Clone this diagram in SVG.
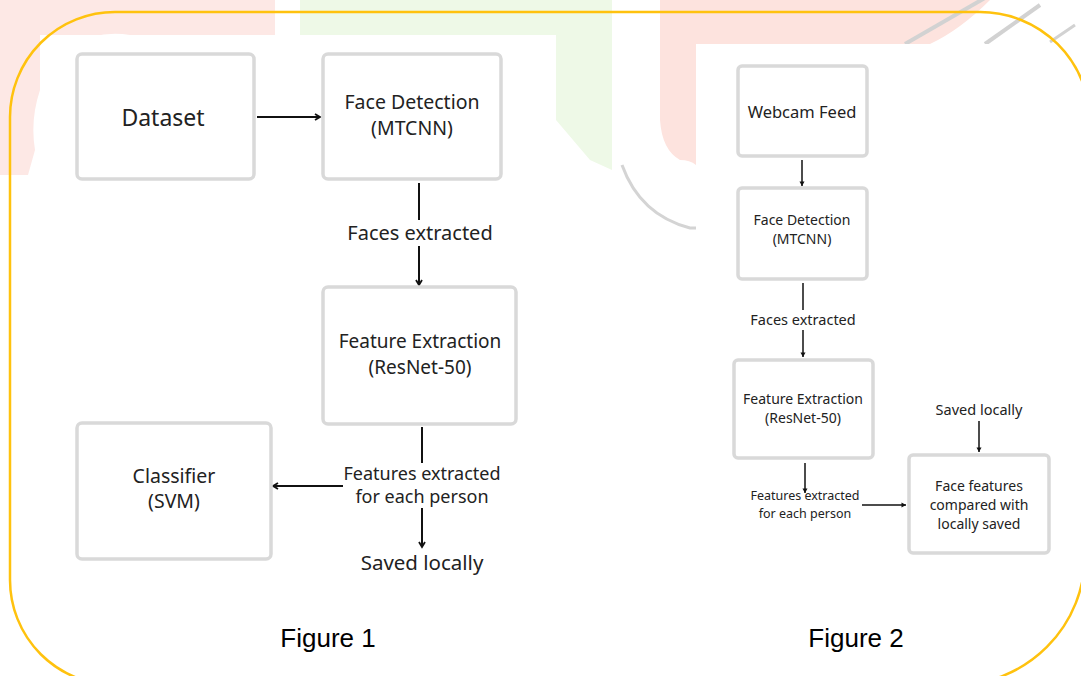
<svg xmlns="http://www.w3.org/2000/svg" width="1081" height="676" viewBox="0 0 1081 676">
<style>
.box{fill:#ffffff;stroke:#d9d9d9;stroke-width:3.5}
.t{font-family:"Noto Sans","Open Sans",sans-serif;fill:#222222;text-anchor:middle}
.cap{font-family:"Liberation Sans",Arial,sans-serif;fill:#000000;text-anchor:middle;font-size:26px}
.ln{stroke:#111111;stroke-width:2;fill:none}
.ln2{stroke:#111111;stroke-width:1.5;fill:none}
</style>
<defs>
<marker id="ah" markerWidth="8" markerHeight="8" refX="6" refY="4" orient="auto" markerUnits="userSpaceOnUse">
<path d="M1,1 L6,4 L1,7" fill="none" stroke="#111111" stroke-width="1.8"/>
</marker>
<marker id="ahs" markerWidth="6" markerHeight="6" refX="5" refY="3" orient="auto" markerUnits="userSpaceOnUse">
<path d="M0.5,0.5 L5,3 L0.5,5.5 Z" fill="#111111"/>
</marker>
</defs>
<rect width="1081" height="676" fill="#ffffff"/>
<g id="watermark">
<path d="M0,0 H275 V35 H130 Q100 30 70 45 Q45 60 40 90 Q30 120 35 150 L28 175 H0 Z" fill="#fde8e5"/>
<path d="M300,0 H612 V170 L590 160 L556 120 V35 H300 Z" fill="#eef9e7"/>
<path d="M660,0 H990 Q960 30 930 44 H696 V165 Q690 160 680 160 Q662 150 660 120 Z" fill="#fde3de"/>
<path d="M622,165 Q640 215 690 228 L696 228" fill="none" stroke="#d4d4d4" stroke-width="3"/>
<path d="M905,44 L990,-5" stroke="#d2d2d2" stroke-width="4"/>
<path d="M985,44 L1040,5" stroke="#d2d2d2" stroke-width="4"/>
<path d="M1050,42 L1075,25" stroke="#d2d2d2" stroke-width="3"/>
<rect x="40" y="35" width="516" height="560" fill="#ffffff"/>
<rect x="696" y="44" width="385" height="540" fill="#ffffff"/>
</g>
<path id="frame" d="M115,12 H980 A110 110 0 0 1 1090 122 L1085 555 A130 130 0 0 1 955 685 H115 A105 105 0 0 1 10 580 V117 A105 105 0 0 1 115 12 Z" fill="none" stroke="#ffc20e" stroke-width="2.5"/>
<g id="connectors">
<line class="ln" x1="257" y1="117" x2="320" y2="117" marker-end="url(#ah)"/>
<line class="ln" x1="419" y1="183" x2="419" y2="220"/>
<line class="ln" x1="419" y1="246" x2="419" y2="285" marker-end="url(#ah)"/>
<line class="ln" x1="422" y1="427" x2="422" y2="463"/>
<line class="ln" x1="343" y1="486" x2="273" y2="486" marker-end="url(#ah)"/>
<line class="ln" x1="422" y1="508" x2="422" y2="547" marker-end="url(#ah)"/>
<line class="ln2" x1="802" y1="160" x2="802" y2="186" marker-end="url(#ahs)"/>
<line class="ln2" x1="803" y1="283" x2="803" y2="310"/>
<line class="ln2" x1="803" y1="330" x2="803" y2="357" marker-end="url(#ahs)"/>
<line class="ln2" x1="805" y1="463" x2="805" y2="493" marker-end="url(#ahs)"/>
<line class="ln2" x1="862" y1="505" x2="906" y2="505" marker-end="url(#ahs)"/>
<line class="ln2" x1="979" y1="421" x2="979" y2="452" marker-end="url(#ahs)"/>
</g>
<g id="dataset"><rect class="box" x="77" y="54" width="177" height="125" rx="5"/><text class="t" x="163" y="126" font-size="23">Dataset</text></g>
<g id="facedet1"><rect class="box" x="323" y="54" width="178" height="125" rx="5"/><text class="t" x="412" y="109" font-size="19.5">Face Detection</text><text class="t" x="412" y="135" font-size="19.5">(MTCNN)</text></g>
<g id="faces1"><text class="t" x="420" y="240" font-size="20">Faces extracted</text></g>
<g id="featext1"><rect class="box" x="323" y="287" width="193" height="137" rx="5"/><text class="t" x="420" y="348" font-size="19">Feature Extraction</text><text class="t" x="420" y="374" font-size="19">(ResNet-50)</text></g>
<g id="features1"><text class="t" x="422" y="480" font-size="18">Features extracted</text><text class="t" x="422" y="503" font-size="18">for each person</text></g>
<g id="saved1"><text class="t" x="422" y="570" font-size="20.5">Saved locally</text></g>
<g id="classifier"><rect class="box" x="77" y="423" width="194" height="136" rx="5"/><text class="t" x="174" y="483" font-size="19.5">Classifier</text><text class="t" x="174" y="508" font-size="19.5">(SVM)</text></g>
<g id="webcam"><rect class="box" x="738" y="66" width="129" height="90" rx="4" stroke-width="3"/><text class="t" x="802" y="118" font-size="16.5">Webcam Feed</text></g>
<g id="facedet2"><rect class="box" x="738" y="188" width="129" height="91" rx="4" stroke-width="3"/><text class="t" x="802" y="225" font-size="14">Face Detection</text><text class="t" x="802" y="244" font-size="14">(MTCNN)</text></g>
<g id="faces2"><text class="t" x="803" y="325" font-size="14.5">Faces extracted</text></g>
<g id="featext2"><rect class="box" x="734" y="360" width="139" height="98" rx="4" stroke-width="3"/><text class="t" x="803" y="404" font-size="14">Feature Extraction</text><text class="t" x="803" y="423" font-size="14">(ResNet-50)</text></g>
<g id="features2"><text class="t" x="805" y="500" font-size="12.5">Features extracted</text><text class="t" x="805" y="518" font-size="12.5">for each person</text></g>
<g id="saved2"><text class="t" x="979" y="415" font-size="14.5">Saved locally</text></g>
<g id="compare"><rect class="box" x="909" y="455" width="140" height="98" rx="4" stroke-width="3"/><text class="t" x="979" y="491" font-size="14">Face features</text><text class="t" x="979" y="510" font-size="14">compared with</text><text class="t" x="979" y="529" font-size="14">locally saved</text></g>
<g id="captions"><text class="cap" x="328" y="647">Figure 1</text><text class="cap" x="856" y="647">Figure 2</text></g>
</svg>
